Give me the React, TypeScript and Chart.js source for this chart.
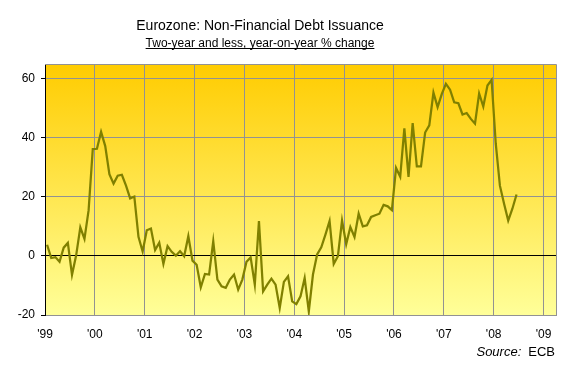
import React, { useEffect, useRef } from "react";
import { Chart, registerables } from "chart.js";

Chart.register(...registerables);

const titleText = "Eurozone: Non-Financial Debt Issuance";
const subtitleText = "Two-year and less, year-on-year % change";
const sourceLabel = "Source:";
const sourceName = "ECB";

// x tick labels, one per year starting Jan 1999
const yearLabels = ["'99", "'00", "'01", "'02", "'03", "'04", "'05", "'06", "'07", "'08", "'09"];
const yTickValues = [-20, 0, 20, 40, 60];

// monthly values, Jan 1999 .. Jun 2008 (year-on-year % change)
const values = [
  3.8, -0.7, -0.4, -2.0, 2.8, 4.4, -6.4, 0.2, 9.7, 5.8, 15.5, 36.2,
  36.3, 42.0, 37.2, 27.7, 24.5, 27.2, 27.5, 23.8, 19.5, 20.1, 6.5, 1.5,
  8.7, 9.3, 2.0, 4.5, -2.7, 3.3, 1.4, 0.1, 1.6, -0.1, 6.7, -1.6,
  -3.0, -10.6, -6.1, -6.3, 5.0, -8.0, -10.3, -10.8, -8.0, -6.3, -11.4, -8.0,
  -2.0, -0.5, -9.7, 11.8, -12.0, -9.7, -7.7, -9.7, -17.6, -8.8, -6.9, -15.4,
  -16.3, -13.7, -7.5, -18.8, -6.3, 0.5, 2.9, 7.2, 11.8, -2.7, -0.1, 12.0,
  4.0, 9.8, 6.4, 14.3, 10.0, 10.4, 13.2, 13.8, 14.3, 17.3, 16.8, 15.5,
  29.8, 26.8, 43.2, 26.8, 45.0, 30.3, 30.3, 41.8, 44.2, 55.3, 50.4, 54.8,
  58.3, 56.3, 52.0, 51.7, 47.9, 48.4, 46.4, 44.8, 55.0, 50.6, 57.7, 59.6,
  38.0, 23.8, 17.7, 12.0, 16.0, 20.8,
];

const FONT = "'Liberation Sans', Arial, sans-serif";

export default function App() {
  const ref = useRef<HTMLCanvasElement>(null);

  useEffect(() => {
    const canvas = ref.current;
    if (!canvas) return;

    const decor = {
      id: "decor",
      beforeDraw(chart: any) {
        const { ctx, chartArea: a } = chart;
        ctx.save();
        ctx.fillStyle = "#ffffff";
        ctx.fillRect(0, 0, chart.width, chart.height);
        const g = ctx.createLinearGradient(0, a.top, 0, a.bottom);
        g.addColorStop(0, "#FFCC00");
        g.addColorStop(1, "#FFFF99");
        ctx.fillStyle = g;
        ctx.fillRect(a.left, a.top, a.right - a.left, a.bottom - a.top);
        ctx.restore();
      },
      beforeDatasetsDraw(chart: any) {
        const { ctx, chartArea: a } = chart;
        ctx.save();
        ctx.strokeStyle = "#929292";
        ctx.lineWidth = 1;
        ctx.beginPath();
        ctx.moveTo(a.left, Math.round(a.top) + 0.5);
        ctx.lineTo(Math.round(a.right) + 0.5, Math.round(a.top) + 0.5);
        ctx.lineTo(Math.round(a.right) + 0.5, a.bottom);
        ctx.stroke();
        ctx.restore();
      },
      afterDraw(chart: any) {
        const { ctx } = chart;
        ctx.save();
        ctx.fillStyle = "#000";
        ctx.textAlign = "center";
        ctx.textBaseline = "alphabetic";
        ctx.font = `14px ${FONT}`;
        ctx.fillText(titleText, 260, 30);
        ctx.font = `12px ${FONT}`;
        ctx.fillText(subtitleText, 260, 46.5);
        const w = ctx.measureText(subtitleText).width;
        ctx.strokeStyle = "#000";
        ctx.lineWidth = 1;
        ctx.beginPath();
        ctx.moveTo(260 - w / 2, 48.5);
        ctx.lineTo(260 + w / 2, 48.5);
        ctx.stroke();

        ctx.textAlign = "right";
        ctx.font = `13px ${FONT}`;
        ctx.fillText(sourceName, 555, 356);
        const ew = ctx.measureText(sourceName).width;
        ctx.font = `italic 13px ${FONT}`;
        ctx.fillText(sourceLabel, 555 - ew - 7, 356);
        ctx.restore();
      },
    };

    const chart = new Chart(canvas, {
      type: "line",
      data: {
        datasets: [
          {
            data: values.map((v, i) => ({ x: i + 0.5, y: v })),
            borderColor: "#808000",
            borderWidth: 2.25,
            pointRadius: 0,
            tension: 0,
            fill: false,
          },
        ],
      },
      options: {
        responsive: false,
        animation: false,
        devicePixelRatio: 1,
        layout: { padding: { top: 64, right: 21, left: 0, bottom: 0 } },
        plugins: {
          legend: { display: false },
          tooltip: { enabled: false },
          title: { display: false },
        },
        scales: {
          x: {
            type: "linear",
            min: 0,
            max: 123,
            afterFit(scale: any) {
              scale.height = 54;
            },
            afterBuildTicks(scale: any) {
              scale.ticks = yearLabels.map((_, i) => ({ value: i * 12 }));
            },
            ticks: {
              autoSkip: false,
              maxRotation: 0,
              padding: 12,
              color: "#000",
              font: { family: FONT, size: 12 },
              callback: (v: any) => yearLabels[Math.round(Number(v) / 12)] ?? "",
            },
            grid: {
              color: "#929292",
              lineWidth: 1,
              drawTicks: false,
            },
            border: { color: "#929292", width: 1 },
          },
          y: {
            type: "linear",
            min: -20,
            max: 65,
            afterFit(scale: any) {
              scale.width = 45;
            },
            afterBuildTicks(scale: any) {
              scale.ticks = yTickValues.map((v) => ({ value: v }));
            },
            ticks: {
              padding: 6,
              color: "#000",
              font: { family: FONT, size: 12 },
            },
            grid: {
              color: (c: any) => (c.tick && c.tick.value === 0 ? "#000000" : "#929292"),
              lineWidth: 1,
              tickLength: 4,
              tickColor: "#000",
            },
            border: { color: "#000", width: 1 },
          },
        },
      },
      plugins: [decor],
    });

    return () => chart.destroy();
  }, []);

  return (
    <div style={{ position: "fixed", left: 0, top: 0, width: 577, height: 369, background: "#fff" }}>
      <canvas ref={ref} width={577} height={369} style={{ display: "block" }} />
    </div>
  );
}
